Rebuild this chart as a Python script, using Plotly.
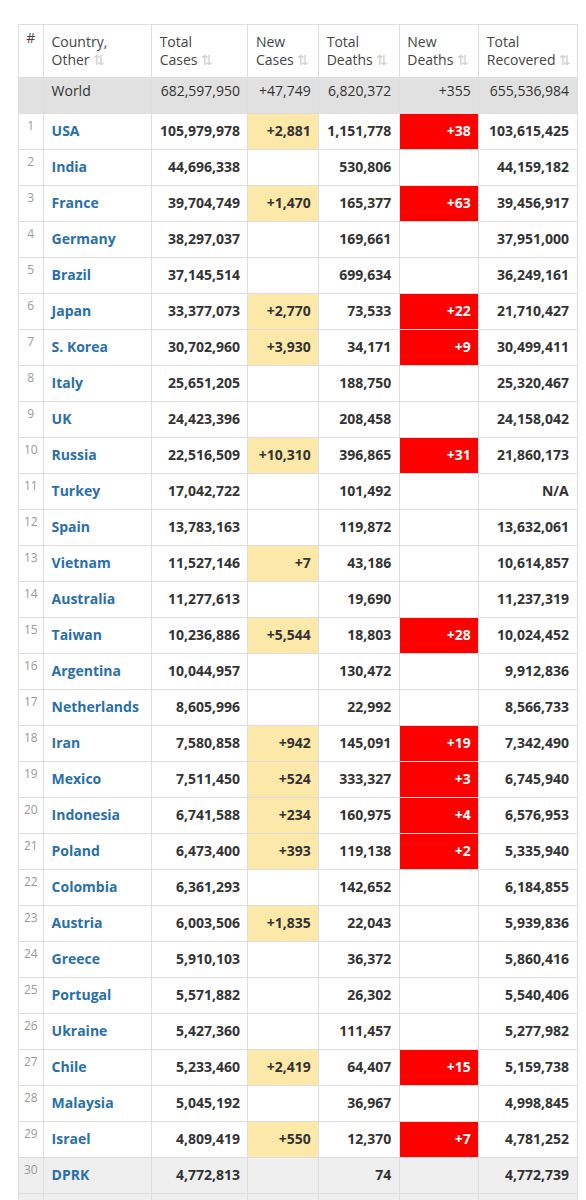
import plotly.graph_objects as go

ranks = ["", "1", "2", "3", "4", "5", "6", "7", "8", "9", "10", "11", "12", "13", "14", "15",
         "16", "17", "18", "19", "20", "21", "22", "23", "24", "25", "26", "27", "28", "29", "30", ""]
countries = ["World", "USA", "India", "France", "Germany", "Brazil", "Japan", "S. Korea", "Italy", "UK",
             "Russia", "Turkey", "Spain", "Vietnam", "Australia", "Taiwan", "Argentina", "Netherlands",
             "Iran", "Mexico", "Indonesia", "Poland", "Colombia", "Austria", "Greece", "Portugal",
             "Ukraine", "Chile", "Malaysia", "Israel", "DPRK", ""]
total_cases = ["682,597,950", "105,979,978", "44,696,338", "39,704,749", "38,297,037", "37,145,514",
               "33,377,073", "30,702,960", "25,651,205", "24,423,396", "22,516,509", "17,042,722",
               "13,783,163", "11,527,146", "11,277,613", "10,236,886", "10,044,957", "8,605,996",
               "7,580,858", "7,511,450", "6,741,588", "6,473,400", "6,361,293", "6,003,506",
               "5,910,103", "5,571,882", "5,427,360", "5,233,460", "5,045,192", "4,809,419",
               "4,772,813", ""]
new_cases = ["+47,749", "+2,881", "", "+1,470", "", "", "+2,770", "+3,930", "", "", "+10,310", "", "",
             "+7", "", "+5,544", "", "", "+942", "+524", "+234", "+393", "", "+1,835", "", "", "",
             "+2,419", "", "+550", "", ""]
total_deaths = ["6,820,372", "1,151,778", "530,806", "165,377", "169,661", "699,634", "73,533", "34,171",
                "188,750", "208,458", "396,865", "101,492", "119,872", "43,186", "19,690", "18,803",
                "130,472", "22,992", "145,091", "333,327", "160,975", "119,138", "142,652", "22,043",
                "36,372", "26,302", "111,457", "64,407", "36,967", "12,370", "74", ""]
new_deaths = ["+355", "+38", "", "+63", "", "", "+22", "+9", "", "", "+31", "", "", "", "", "+28", "", "",
              "+19", "+3", "+4", "+2", "", "", "", "", "", "+15", "", "+7", "", ""]
total_recovered = ["655,536,984", "103,615,425", "44,159,182", "39,456,917", "37,951,000", "36,249,161",
                   "21,710,427", "30,499,411", "25,320,467", "24,158,042", "21,860,173", "N/A",
                   "13,632,061", "10,614,857", "11,237,319", "10,024,452", "9,912,836", "8,566,733",
                   "7,342,490", "6,745,940", "6,576,953", "5,335,940", "6,184,855", "5,939,836",
                   "5,860,416", "5,540,406", "5,277,982", "5,159,738", "4,998,845", "4,781,252",
                   "4,772,739", ""]

n = len(countries)


def row_bg(i):
    if i == 0:
        return "#e1e1e1"
    if i >= n - 2:
        return "#efefef"
    return "white"


base = [row_bg(i) for i in range(n)]
nc_fill = [("#fce8a8" if (v and i > 0) else base[i]) for i, v in enumerate(new_cases)]
nd_fill = [("#ff0000" if (v and i > 0) else base[i]) for i, v in enumerate(new_deaths)]
nd_color = [("white" if i > 0 else "#333") for i in range(n)]
edge_fill = ["#e1e1e1"] + ["#d4ecd4"] * (n - 1)


def bold(vals):
    return [v if (i == 0 or not v) else f"<b>{v}</b>" for i, v in enumerate(vals)]


country_txt = [c if i == 0 or not c else f"<b>{c.replace(' ', '&nbsp;')}</b>"
               for i, c in enumerate(countries)]
country_col = ["#333" if i == 0 else "#2a6fa8" for i in range(n)]

arrow = " <span style='color:#ccc'>⇅</span>"
headers = ["#", "Country,<br>Other" + arrow, "Total<br>Cases" + arrow, "New<br>Cases" + arrow,
           "Total<br>Deaths" + arrow, "New<br>Deaths" + arrow, "Total<br>Recovered" + arrow, ""]

fig = go.Figure(go.Table(
    columnwidth=[26, 110, 98, 72, 82, 81, 100, 6],
    header=dict(
        values=headers,
        align=["center", "left", "left", "left", "left", "left", "left", "left"],
        fill_color="white",
        line_color="#dddddd",
        font=dict(family="Open Sans", size=14, color="#444"),
        height=52,
    ),
    cells=dict(
        values=[ranks, country_txt, bold(total_cases), bold(new_cases), bold(total_deaths),
                bold(new_deaths), bold(total_recovered), [""] * n],
        align=["center", "left", "right", "right", "right", "right", "right", "left"],
        fill_color=[base, base, base, nc_fill, base, nd_fill, base, edge_fill],
        line_color="#dddddd",
        font=dict(family="Open Sans", size=[12, 14, 14, 14, 14, 14, 14, 14],
                  color=["#999", country_col, "#333", "#333", "#333", nd_color, "#333", "#333"]),
        height=36,
    ),
))
fig.update_layout(width=575, height=1200, margin=dict(l=10, r=0, t=16, b=0),
                  paper_bgcolor="white")
fig.write_html("out.html")
